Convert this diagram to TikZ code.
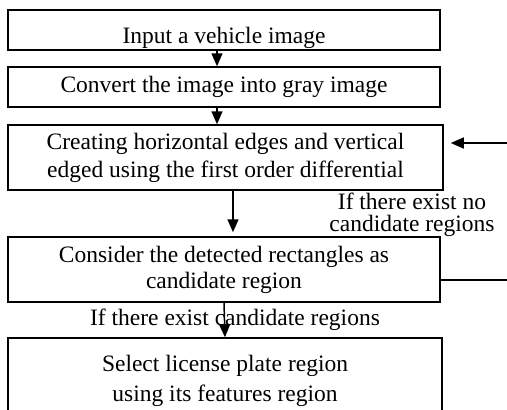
\documentclass[tikz,border=0pt]{standalone}
\usepackage{fontspec}
\setmainfont{Liberation Serif}
\usetikzlibrary{arrows.meta}

\begin{document}
\begin{tikzpicture}[x=1pt,y=-1pt,font=\fontsize{23.5}{28}\selectfont,
  box/.style={draw,line width=1.5pt,align=center,inner sep=0pt},
  flow/.style={line width=1.5pt,-{Triangle[length=13pt,width=11pt]}}]
\useasboundingbox (0,0) rectangle (507,410);

\node[box,minimum width=432pt,minimum height=40pt,text height=26pt,text depth=0pt] (b1) at (224,30) {Input a vehicle image};
\node[box,minimum width=432pt,minimum height=40pt] (b2) at (224,87) {Convert the image into gray image};
\node[box,minimum width=435pt,minimum height=65pt] (b3) at (225.5,157.5) {Creating horizontal edges and vertical\\edged using the first order differential};
\node[box,minimum width=432pt,minimum height=65pt,font=\fontsize{23.5}{26}\selectfont] (b4) at (224,269.5) {Consider the detected rectangles as\\candidate region};
\node[box,minimum width=434pt,minimum height=86pt,font=\fontsize{23.5}{30}\selectfont] (b5) at (225,381) {Select license plate region\\using its features region};

\node[align=center,font=\fontsize{23.5}{22}\selectfont] (nolbl) at (412,215) {If there exist no\\candidate regions};
\node (yeslbl) at (235,320) {If there exist candidate regions};

\coordinate (fbout) at (507,280);
\coordinate (fbin) at (507,143);

\draw[flow] ([xshift=-7pt]b1.south) -- ([xshift=-7pt]b2.north);
\draw[flow] ([xshift=-7pt]b2.south) -- ([xshift=-8.5pt]b3.north);
\draw[flow,shorten >=4pt] ([xshift=7.5pt]b3.south) -- ([xshift=7.5pt]b3.south |- b4.north);
\draw[flow] (b4.south) -- (b5.north);

% feedback
\draw[line width=1.5pt] ([yshift=-10.5pt]b4.east) -- (fbout);
\draw[flow,shorten >=7pt] (fbin) -- (b3.east |- fbin);

\end{tikzpicture}
\end{document}
